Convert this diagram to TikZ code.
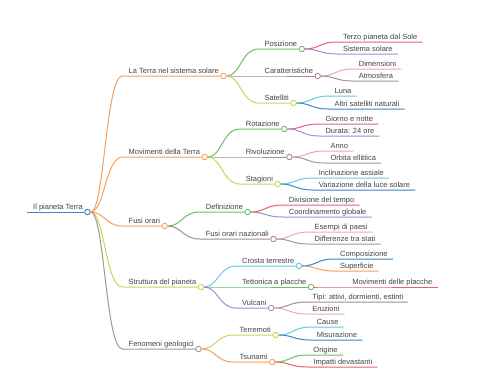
\documentclass[tikz,border=0pt]{standalone}
\usepackage{fontspec}
\setmainfont{Liberation Sans}
\usetikzlibrary{calc}
\definecolor{mmblue}{HTML}{3D85C6}
\definecolor{mmorange}{HTML}{F6A05A}
\definecolor{mmgreen}{HTML}{6ABF69}
\definecolor{mmmauve}{HTML}{A98A8D}
\definecolor{mmolive}{HTML}{C9D65A}
\definecolor{mmred}{HTML}{E0666B}
\definecolor{mmpurple}{HTML}{A68BD0}
\definecolor{mmpink}{HTML}{EEA3D3}
\definecolor{mmgray}{HTML}{9A9A9A}
\definecolor{mmcyan}{HTML}{62CDE0}
\definecolor{mmtext}{HTML}{444444}
\tikzset{
  lbl/.style={inner sep=0pt, text=mmtext, font=\fontsize{7.5}{9}\selectfont},
  dot/.style={circle, fill=white, line width=0.9pt, minimum size=5.5pt, inner sep=0pt},
  con/.style={line width=1pt},
}
\newcommand{\mmmid}[5]{%
  \path (#2) ++(35,0) coordinate (#1x);
  \coordinate (#1y) at (0,#4);
  \coordinate (#1s) at (#1x |- #1y);
  \node[lbl, anchor=base west] (#1t) at ($(#1s)+(6,-3)$) {#5};
  \node[dot, draw=#3] (#1) at ($(#1t.base east)+(4.5,3)$) {};
  \draw[con, draw=#3] (#2) .. controls ($(#2)+(17,0)$) and ($(#1s)+(-17,0)$) .. (#1s) -- (#1);
}
\newcommand{\mmleaf}[5]{%
  \path (#2) ++(35,0) coordinate (#1x);
  \coordinate (#1y) at (0,#4);
  \coordinate (#1s) at (#1x |- #1y);
  \node[lbl, anchor=base west] (#1) at ($(#1s)+(6,-3)$) {#5};
  \coordinate (#1e) at ($(#1.base east)+(5,3)$);
  \draw[con, draw=#3] (#2) .. controls ($(#2)+(17,0)$) and ($(#1s)+(-17,0)$) .. (#1s) -- (#1e);
}
\begin{document}
\begin{tikzpicture}[x=1pt,y=-1pt]
\useasboundingbox[fill=white] (0,0) rectangle (480,384);
% root
\coordinate (rs) at (27,212);
\node[lbl, anchor=base west] (rt) at (33,209) {Il pianeta Terra};
\node[dot, draw=mmblue] (root) at ($(rt.base east)+(4.5,3)$) {};
\draw[con, draw=mmblue] (rs) -- (root);
% level 1
\mmmid{a}{root}{mmorange}{76}{La Terra nel sistema solare}
\mmmid{b}{root}{mmorange}{157}{Movimenti della Terra}
\mmmid{c}{root}{mmorange}{226}{Fusi orari}
\mmmid{d}{root}{mmolive}{287}{Struttura del pianeta}
\mmmid{e}{root}{mmgray}{349}{Fenomeni geologici}
% level 2
\mmmid{aa}{a}{mmgreen}{49}{Posizione}
\mmmid{ab}{a}{mmmauve}{76}{Caratteristiche}
\mmmid{ac}{a}{mmolive}{103}{Satelliti}
\mmmid{ba}{b}{mmgreen}{129}{Rotazione}
\mmmid{bb}{b}{mmmauve}{157}{Rivoluzione}
\mmmid{bc}{b}{mmolive}{184}{Stagioni}
\mmmid{ca}{c}{mmgreen}{212}{Definizione}
\mmmid{cb}{c}{mmmauve}{239}{Fusi orari nazionali}
\mmmid{da}{d}{mmcyan}{266}{Crosta terrestre}
\mmmid{db}{d}{mmgreen}{287}{Tettonica a placche}
\mmmid{dc}{d}{mmpurple}{308}{Vulcani}
\mmmid{ea}{e}{mmolive}{335}{Terremoti}
\mmmid{eb}{e}{mmorange}{362}{Tsunami}
% level 3
\mmleaf{aaa}{aa}{mmred}{42}{Terzo pianeta dal Sole}
\mmleaf{aab}{aa}{mmpurple}{54}{Sistema solare}
\mmleaf{aba}{ab}{mmpink}{69}{Dimensioni}
\mmleaf{abb}{ab}{mmgray}{81}{Atmosfera}
\mmleaf{aca}{ac}{mmcyan}{96}{Luna}
\mmleaf{acb}{ac}{mmblue}{109}{Altri satelliti naturali}
\mmleaf{baa}{ba}{mmred}{124}{Giorno e notte}
\mmleaf{bab}{ba}{mmpurple}{136}{Durata: 24 ore}
\mmleaf{bba}{bb}{mmpink}{151}{Anno}
\mmleaf{bbb}{bb}{mmgray}{163}{Orbita ellittica}
\mmleaf{bca}{bc}{mmcyan}{178}{Inclinazione assiale}
\mmleaf{bcb}{bc}{mmblue}{190}{Variazione della luce solare}
\mmleaf{caa}{ca}{mmred}{205}{Divisione del tempo}
\mmleaf{cab}{ca}{mmpurple}{217}{Coordinamento globale}
\mmleaf{cba}{cb}{mmpink}{232}{Esempi di paesi}
\mmleaf{cbb}{cb}{mmgray}{244}{Differenze tra stati}
\mmleaf{daa}{da}{mmblue}{259}{Composizione}
\mmleaf{dab}{da}{mmorange}{271}{Superficie}
\mmleaf{dba}{db}{mmred}{287}{Movimenti delle placche}
\mmleaf{dca}{dc}{mmmauve}{302}{Tipi: attivi, dormienti, estinti}
\mmleaf{dcb}{dc}{mmpink}{314}{Eruzioni}
\mmleaf{eaa}{ea}{mmcyan}{327}{Cause}
\mmleaf{eab}{ea}{mmblue}{340}{Misurazione}
\mmleaf{eba}{eb}{mmgreen}{355}{Origine}
\mmleaf{ebb}{eb}{mmred}{367}{Impatti devastanti}
\end{tikzpicture}
\end{document}
